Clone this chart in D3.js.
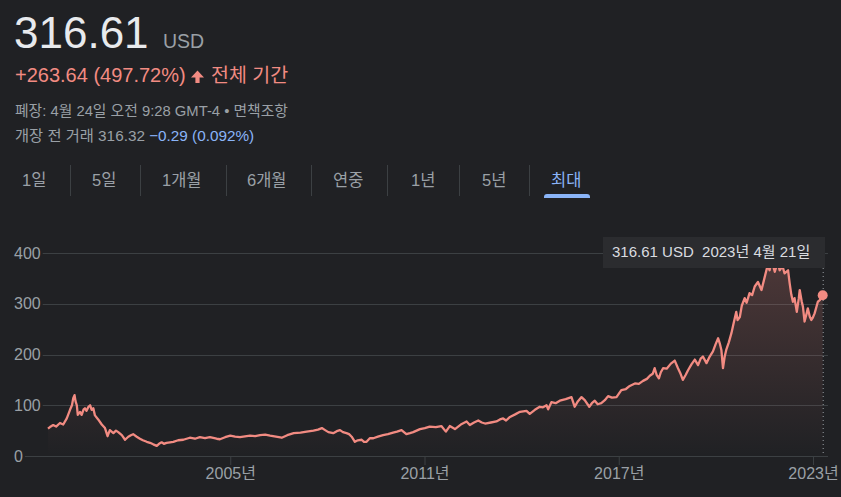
<!DOCTYPE html>
<html><head><meta charset="utf-8">
<script src="https://cdn.jsdelivr.net/npm/d3@7"></script>
<style>
html,body{margin:0;padding:0;background:#202124;}
svg{display:block;font-family:Arial,"Liberation Sans","Noto Sans CJK KR",sans-serif;}
</style></head><body>
<svg id="c" width="841" height="497"></svg>
<script>
// ---- data ----
const years = [1999.37,1999.43,1999.53,1999.62,1999.74,1999.84,1999.95,2000.05,2000.11,2000.15,2000.19,2000.22,2000.26,2000.29,2000.36,2000.41,2000.47,2000.51,2000.56,2000.62,2000.67,2000.72,2000.77,2000.82,2000.92,2001.03,2001.13,2001.21,2001.28,2001.39,2001.47,2001.54,2001.65,2001.75,2001.85,2001.93,2002.00,2002.11,2002.21,2002.30,2002.42,2002.52,2002.62,2002.73,2002.80,2002.88,2002.95,2003.03,2003.14,2003.24,2003.39,2003.55,2003.75,2003.91,2004.06,2004.22,2004.37,2004.58,2004.68,2004.84,2005.00,2005.15,2005.30,2005.61,2005.77,2005.92,2006.08,2006.23,2006.41,2006.59,2006.76,2006.96,2007.17,2007.36,2007.57,2007.71,2007.83,2007.93,2008.03,2008.18,2008.29,2008.39,2008.48,2008.59,2008.67,2008.75,2008.85,2008.94,2009.06,2009.13,2009.21,2009.31,2009.42,2009.56,2009.72,2009.87,2010.03,2010.15,2010.29,2010.44,2010.55,2010.65,2010.86,2011.01,2011.16,2011.35,2011.52,2011.66,2011.78,2011.94,2012.12,2012.30,2012.40,2012.53,2012.66,2012.77,2012.87,2013.05,2013.22,2013.33,2013.43,2013.52,2013.64,2013.80,2013.95,2014.15,2014.25,2014.41,2014.56,2014.66,2014.77,2014.82,2014.92,2015.05,2015.18,2015.36,2015.54,2015.64,2015.74,2015.85,2015.95,2016.09,2016.17,2016.26,2016.35,2016.46,2016.57,2016.67,2016.79,2016.93,2017.08,2017.22,2017.34,2017.50,2017.62,2017.75,2017.87,2017.96,2018.05,2018.11,2018.17,2018.24,2018.30,2018.37,2018.48,2018.61,2018.73,2018.83,2018.91,2018.98,2019.07,2019.14,2019.25,2019.35,2019.45,2019.53,2019.60,2019.71,2019.81,2019.91,2019.99,2020.07,2020.12,2020.17,2020.22,2020.27,2020.32,2020.40,2020.48,2020.55,2020.63,2020.67,2020.74,2020.80,2020.89,2020.95,2021.04,2021.12,2021.20,2021.30,2021.41,2021.51,2021.60,2021.66,2021.72,2021.82,2021.91,2021.97,2022.06,2022.12,2022.23,2022.28,2022.33,2022.38,2022.43,2022.50,2022.56,2022.59,2022.65,2022.69,2022.74,2022.80,2022.84,2022.90,2022.95,2022.99,2023.05,2023.15,2023.21,2023.30];
const prices = [54,57,61,58,65,62,74,91,100,114,120,108,100,81,87,81,92,94,89,97,100,91,94,80,72,62,55,39,51,45,50,47,41,32,38,41,43,38,34,31,28,26,23,20,24,27,24,26,27,28,31,32,36,34,37,35,37,34,33,37,40,38,37,40,39,41,42,40,38,36,41,45,46,48,50,52,55,51,47,45,49,51,47,45,43,38,28,31,32,28,28,35,35,38,41,43,46,48,51,43,45,47,53,55,58,57,59,48,59,53,62,68,61,66,70,66,64,66,68,72,74,70,77,82,87,89,83,91,97,96,100,92,106,104,109,112,116,97,108,116,110,97,104,109,102,104,110,118,115,116,130,132,138,143,142,148,152,158,162,173,160,153,165,173,172,182,188,173,162,150,160,169,181,190,179,192,196,183,196,206,220,232,222,209,173,195,209,224,242,262,284,268,274,296,311,302,321,317,334,343,327,353,376,366,386,363,382,366,374,360,366,340,318,304,311,284,310,327,305,294,265,280,291,275,268,272,281,304,307,316.61];
const yTicks = [0,100,200,300,400];
const xTicks = [2005,2011,2017,2023];
const tabLabels = ["1일","5일","1개월","6개월","연중","1년","5년","최대"];
const lastPrice = "316.61", currency = "USD";
const changeText = "+263.64 (497.72%)", periodText = "전체 기간";
const tooltipText = "316.61 USD  2023년 4월 21일";

// ---- layout ----
const W = 841, H = 497;
const tabX = [22,92,162,247,333,411,482,551];
const dividerX = [70,140,226,311,387,459,529];
const svg = d3.select("#c");
svg.append("rect").attr("width",W).attr("height",H).attr("fill","#202124");

const x = d3.scaleLinear().domain([years[0], years[years.length-1]]).range([48, 822.7]);
const y = d3.scaleLinear().domain([0,400]).range([456,253]);
const data = years.map((t,i)=>({t, v:prices[i]}));

// header
const h = svg.append("g");
h.append("text").attr("x",14).attr("y",48).attr("font-size",44).attr("fill","#e8eaed").text(lastPrice);
h.append("text").attr("x",163).attr("y",47.5).attr("font-size",19.5).attr("fill","#9aa0a6").text(currency);
h.append("text").attr("x",15).attr("y",82).attr("font-size",20).attr("fill","#f28b82").text(changeText);
h.append("path").attr("d","M191,77.5 L197.5,70.5 L204,77.5 L199.6,77.5 L199.6,83 L195.4,83 L195.4,77.5 Z").attr("fill","#f28b82");
h.append("text").attr("x",211).attr("y",82).attr("font-size",19.5).attr("fill","#f28b82").text(periodText);
h.append("text").attr("x",15).attr("y",116).attr("font-size",14.8).attr("fill","#9aa0a6").text("폐장: 4월 24일 오전 9:28 GMT-4 • 면책조항");
const l4 = h.append("text").attr("x",15).attr("y",141).attr("font-size",15.3).attr("fill","#9aa0a6");
l4.append("tspan").text("개장 전 거래 316.32 ");
l4.append("tspan").attr("fill","#8ab4f8").text("−0.29 (0.092%)");

// tabs
const tabs = svg.append("g");
tabLabels.forEach((lab,i)=>{
  tabs.append("text").attr("x",tabX[i]).attr("y",186).attr("font-size",16.5)
    .attr("fill", i===tabLabels.length-1 ? "#8ab4f8" : "#9aa0a6").text(lab);
});
dividerX.forEach(dx=>tabs.append("line").attr("x1",dx+0.5).attr("x2",dx+0.5).attr("y1",165).attr("y2",196).attr("stroke","#3c4043"));
tabs.append("path").attr("d","M544,198 L544,197 Q544,194 547,194 L587,194 Q590,194 590,197 L590,198 Z").attr("fill","#8ab4f8");

// grid + y labels
const grid = svg.append("g");
yTicks.forEach(t=>{
  const tx = grid.append("text").attr("x",14).attr("y",y(t)+5.7).attr("font-size",16).attr("fill","#9aa0a6").text(t);
  const w = tx.node().getComputedTextLength();
  grid.append("line").attr("x1",14+w+2).attr("x2",828).attr("y1",Math.round(y(t))+0.5).attr("y2",Math.round(y(t))+0.5)
    .attr("stroke","#3c4043").attr("stroke-width",1);
});

// x axis
const xa = svg.append("g").attr("transform","translate(0,456)")
  .call(d3.axisBottom(x).tickValues(xTicks).tickSize(9).tickPadding(3).tickFormat(d=>d+"년"));
xa.select(".domain").remove();
xa.selectAll(".tick line").attr("stroke","#3c4043");
xa.selectAll(".tick text").attr("fill","#9aa0a6").attr("font-size",16);
xa.attr("font-family",null).attr("font-size",null);

// area gradient
const defs = svg.append("defs");
const gr = defs.append("linearGradient").attr("id","ag").attr("gradientUnits","userSpaceOnUse")
  .attr("x1",0).attr("x2",0).attr("y1",y(400)).attr("y2",y(0));
gr.append("stop").attr("offset",0).attr("stop-color","#f28b82").attr("stop-opacity",0.22);
gr.append("stop").attr("offset",1).attr("stop-color","#f28b82").attr("stop-opacity",0.0);

svg.append("path").datum(data)
  .attr("d", d3.area().x(d=>x(d.t)).y0(y(0)).y1(d=>y(d.v)))
  .attr("fill","url(#ag)");
svg.append("path").datum(data)
  .attr("d", d3.line().x(d=>x(d.t)).y(d=>y(d.v)))
  .attr("fill","none").attr("stroke","#f28b82").attr("stroke-width",2.3).attr("stroke-linejoin","round");

// marker + dotted line
const last = data[data.length-1];
svg.append("line").attr("x1",x(last.t)+0.5).attr("x2",x(last.t)+0.5).attr("y1",268).attr("y2",456)
  .attr("stroke","#9aa0a6").attr("stroke-dasharray","1,3").attr("stroke-width",1);
svg.append("circle").attr("cx",x(last.t)).attr("cy",y(last.v)).attr("r",5).attr("fill","#f28b82");

// tooltip
svg.append("rect").attr("x",603).attr("y",237).attr("width",222).attr("height",31).attr("fill","#2b2c2f");
svg.append("text").attr("x",612).attr("y",257).attr("font-size",15).attr("fill","#dadce0")
  .style("white-space","pre").text(tooltipText);
</script>
</body></html>
